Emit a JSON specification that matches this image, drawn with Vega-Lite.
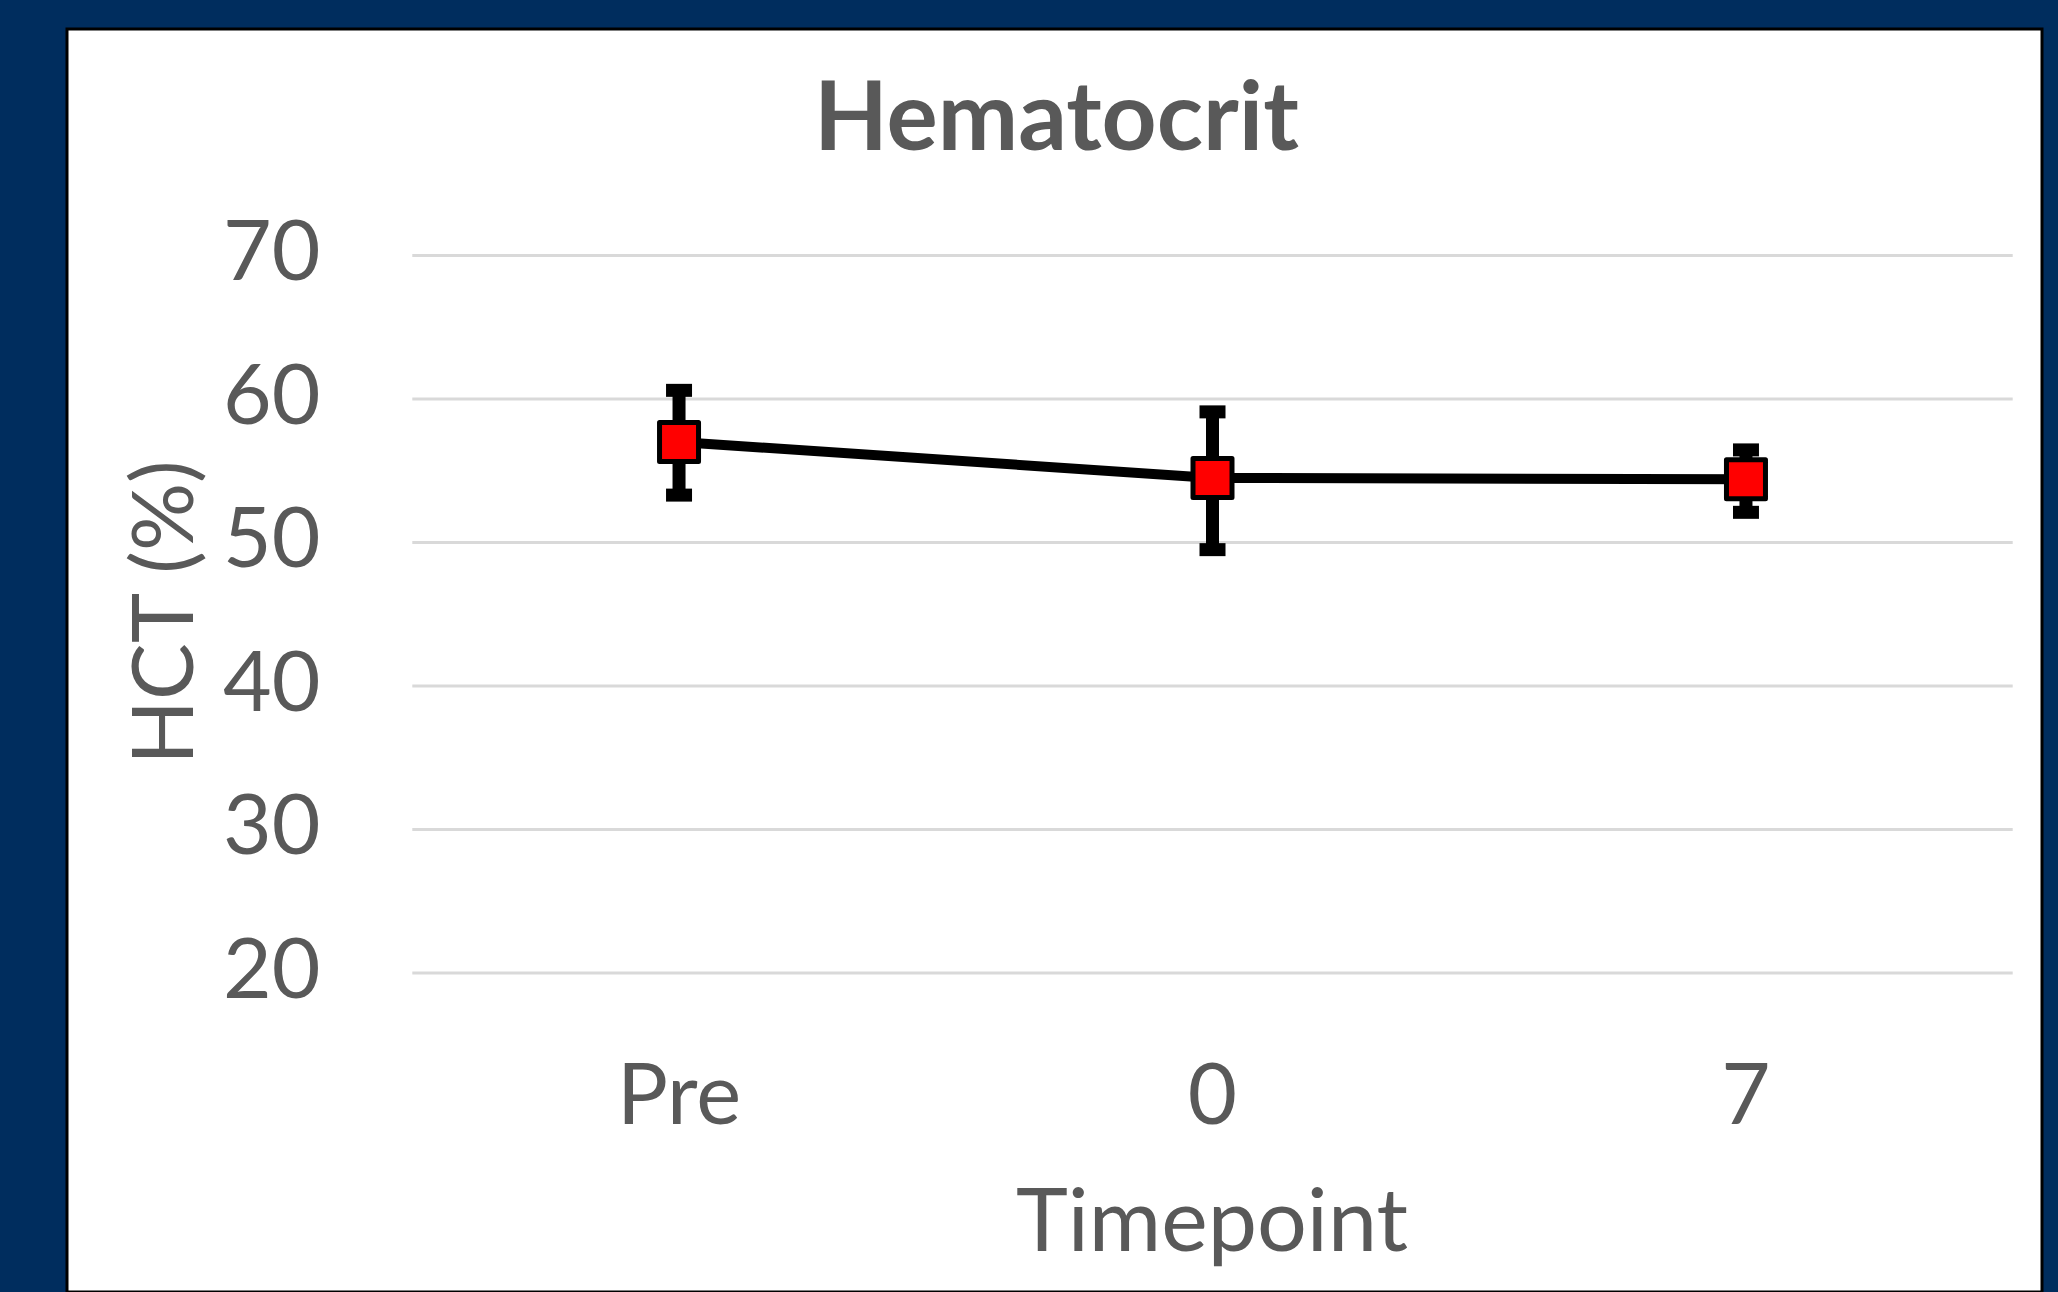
{
  "$schema": "https://vega.github.io/schema/vega-lite/v6.json",
  "autosize": "none",
  "width": 1975,
  "height": 1263,
  "padding": {"left": 67, "top": 29, "right": 16, "bottom": 0},
  "background": "#002D5E",
  "config": {
    "view": {"fill": "white", "stroke": "black", "strokeWidth": 3},
    "font": "Lato",
    "axisX": {
      "orient": "bottom",
      "offset": -319,
      "domain": false,
      "ticks": false,
      "tickSize": 0,
      "grid": false,
      "labelAngle": 0,
      "labelPadding": 150,
      "labelBaseline": "alphabetic",
      "labelFont": "Lato",
      "labelFontSize": 85,
      "labelColor": "#595959",
      "titleFont": "Lato",
      "titleFontSize": 88,
      "titleFontWeight": "normal",
      "titleColor": "#595959",
      "titleX": 1144.5,
      "titleY": 277,
      "titleBaseline": "alphabetic",
      "titleAlign": "center"
    },
    "axisY": {
      "orient": "left",
      "offset": -253,
      "domain": false,
      "ticks": false,
      "tickSize": 0,
      "grid": false,
      "labelPadding": 0,
      "labelBaseline": "alphabetic",
      "labelOffset": 24.5,
      "labelFont": "Lato",
      "labelFontSize": 84,
      "labelColor": "#595959",
      "titleFont": "Lato",
      "titleFontSize": 85,
      "titleFontWeight": "normal",
      "titleColor": "#595959",
      "titleAngle": 270,
      "titleX": -128,
      "titleY": 583,
      "titleBaseline": "alphabetic",
      "titleAlign": "center"
    }
  },
  "title": {
    "text": "Hematocrit",
    "font": "Lato",
    "fontSize": 96,
    "fontWeight": "bold",
    "color": "#595959",
    "baseline": "alphabetic",
    "offset": -217,
    "anchor": "middle",
    "frame": "bounds",
    "dx": 2
  },
  "datasets": {
    "grid": [{"g": 20}, {"g": 30}, {"g": 40}, {"g": 50}, {"g": 60}, {"g": 70}],
    "hct": [
      {"timepoint": "Pre", "hct": 57.0, "lo": 53.3, "hi": 60.6},
      {"timepoint": "0", "hct": 54.5, "lo": 49.5, "hi": 59.1},
      {"timepoint": "7", "hct": 54.4, "lo": 52.1, "hi": 56.45}
    ]
  },
  "data": {"name": "hct"},
  "encoding": {
    "x": {
      "field": "timepoint",
      "type": "nominal",
      "scale": {
        "type": "band",
        "domain": ["Pre", "0", "7"],
        "paddingInner": 0,
        "paddingOuter": 0.35109,
        "align": 0.9218
      },
      "axis": {"title": "Timepoint"}
    },
    "y": {
      "field": "hct",
      "type": "quantitative",
      "scale": {"domain": [-2.23, 85.78], "nice": false, "zero": false},
      "axis": {"title": "HCT (%)", "values": [20, 30, 40, 50, 60, 70]}
    }
  },
  "layer": [
    {
      "data": {"name": "grid"},
      "mark": {"type": "rule", "color": "#D9D9D9", "strokeWidth": 3},
      "encoding": {
        "x": {"datum": "Pre", "type": "nominal", "bandPosition": 0},
        "x2": {"datum": "7", "bandPosition": 1},
        "y": {"field": "g", "type": "quantitative"}
      }
    },
    {
      "mark": {"type": "line", "color": "black", "strokeWidth": 10},
      "encoding": {}
    },
    {
      "mark": {"type": "rule", "color": "black", "strokeWidth": 13},
      "encoding": {
        "y": {"field": "lo", "type": "quantitative"},
        "y2": {"field": "hi"}
      }
    },
    {
      "mark": {"type": "tick", "color": "black", "size": 26, "thickness": 13, "opacity": 1},
      "encoding": {
        "y": {"field": "hi", "type": "quantitative"}
      }
    },
    {
      "mark": {"type": "tick", "color": "black", "size": 26, "thickness": 13, "opacity": 1},
      "encoding": {
        "y": {"field": "lo", "type": "quantitative"}
      }
    },
    {
      "mark": {
        "type": "point",
        "shape": "square",
        "filled": true,
        "fill": "#FF0000",
        "stroke": "black",
        "strokeWidth": 5,
        "strokeJoin": "round",
        "size": 1521,
        "opacity": 1
      },
      "encoding": {}
    }
  ]
}
